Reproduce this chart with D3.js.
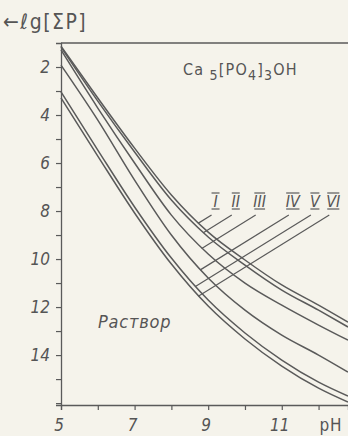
<!DOCTYPE html>
<html>
<head>
<meta charset="utf-8">
<script src="https://cdn.jsdelivr.net/npm/d3@7"></script>
<style>
  body { margin: 0; background: #f5f3eb; }
  svg { display: block; }
  text { font-family: "DejaVu Sans Condensed", "DejaVu Sans", sans-serif; fill: #555; }
</style>
</head>
<body>
<script>
// curve values, -lg[SP] against pH
var ph = [5, 6, 7, 8, 9, 10, 11, 12, 12.8];
var curveI   = [1.13, 3.29, 5.38, 7.33, 8.88, 10.04, 11.08, 11.92, 12.63];
var curveII  = [1.17, 3.42, 5.54, 7.54, 9.08, 10.25, 11.29, 12.13, 12.83];
var curveIII = [1.29, 3.71, 6.00, 8.17, 9.79, 11.00, 11.92, 12.75, 13.38];
var curveIV  = [1.92, 4.21, 6.71, 9.00, 10.79, 12.13, 13.17, 14.00, 14.71];
var curveV   = [3.04, 5.46, 7.83, 9.96, 11.71, 13.08, 14.21, 15.13, 15.71];
var curveVI  = [3.29, 5.71, 8.08, 10.21, 11.96, 13.33, 14.46, 15.38, 15.96];
var curveNames = ["I", "II", "III", "IV", "V", "VI"];
var labelPh = [9.2, 9.75, 10.4, 11.3, 11.9, 12.4];

var xTicks = [5, 6, 7, 8, 9, 10, 11, 12];
var xTickLabels = [5, 7, 9, 11];
var yTicks = [2, 3, 4, 5, 6, 7, 8, 9, 10, 11, 12, 13, 14, 15, 16];
var yTickLabels = [2, 4, 6, 8, 10, 12, 14];

var width = 348, height = 436;
var margin = {top: 43, right: 0, bottom: 31, left: 61};
var ink = "#5a5a5a";

var svg = d3.select("body")
            .append("svg")
            .attr("width", width)
            .attr("height", height);

var x = d3.scaleLinear().domain([5, 12.8]).range([margin.left, width - margin.right]);
var y = d3.scaleLinear().domain([1, 16.08]).range([margin.top, height - margin.bottom]);

// frame: top line, left axis, bottom axis
svg.append("line")
    .attr("x1", x(5)).attr("x2", width)
    .attr("y1", y(1)).attr("y2", y(1))
    .attr("stroke", ink).attr("stroke-width", 1.3);

var yAxis = svg.append("g")
    .attr("transform", "translate(" + x(5) + ",0)")
    .call(d3.axisLeft(y).tickValues(yTicks).tickSize(5).tickFormat(""));

var xAxis = svg.append("g")
    .attr("transform", "translate(0," + y(16.08) + ")")
    .call(d3.axisBottom(x).tickValues(xTicks).tickSize(5).tickFormat(""));

[xAxis, yAxis].forEach(function(g) {
  g.select(".domain").attr("stroke", ink).attr("stroke-width", 1.3);
  g.selectAll(".tick line").attr("stroke", ink).attr("stroke-width", 1.2);
});

svg.selectAll(".ylab")
    .data(yTickLabels)
    .enter().append("text")
    .attr("class", "ylab")
    .attr("x", x(5) - 11)
    .attr("y", function(d) { return y(d) + 6; })
    .attr("text-anchor", "end")
    .attr("font-size", "17px")
    .attr("font-style", "italic")
    .text(function(d) { return d; });

svg.selectAll(".xlab")
    .data(xTickLabels)
    .enter().append("text")
    .attr("class", "xlab")
    .attr("x", function(d) { return x(d) - 2; })
    .attr("y", 431)
    .attr("text-anchor", "middle")
    .attr("font-size", "17px")
    .attr("font-style", "italic")
    .text(function(d) { return d; });

svg.append("text")
    .attr("x", 331).attr("y", 431)
    .attr("text-anchor", "middle")
    .attr("font-size", "17px")
    .attr("letter-spacing", "1px")
    .text("pH");

svg.append("text")
    .attr("x", 3).attr("y", 29)
    .attr("font-size", "21px")
    .attr("letter-spacing", "1.5px")
    .text("\u2190\u2113g[\u03A3P]");

// formula
var formula = svg.append("text")
    .attr("x", 183).attr("y", 75)
    .attr("font-size", "16px")
    .attr("letter-spacing", "1.2px");
formula.append("tspan").text("Ca");
formula.append("tspan").attr("dy", 5).attr("font-size", "14px").text(" 5");
formula.append("tspan").attr("dy", -5).text("[PO");
formula.append("tspan").attr("dy", 5).attr("font-size", "14px").text("4");
formula.append("tspan").attr("dy", -5).text("]");
formula.append("tspan").attr("dy", 5).attr("font-size", "14px").text("3");
formula.append("tspan").attr("dy", -5).text("OH");

svg.append("text")
    .attr("x", 98).attr("y", 328)
    .attr("font-size", "18px")
    .attr("font-style", "italic")
    .attr("letter-spacing", "0.8px")
    .text("\u0420\u0430\u0441\u0442\u0432\u043e\u0440");

// curves
var curves = [curveI, curveII, curveIII, curveIV, curveV, curveVI];
var line = d3.line()
    .x(function(d, i) { return x(ph[i]); })
    .y(function(d) { return y(d); })
    .curve(d3.curveMonotoneX);

svg.selectAll(".curve")
    .data(curves)
    .enter().append("path")
    .attr("class", "curve")
    .attr("d", line)
    .attr("fill", "none")
    .attr("stroke", ink)
    .attr("stroke-width", 1.5);

// labels with leader lines down to their curve
var paths = svg.selectAll(".curve").nodes();
curveNames.forEach(function(name, k) {
  var lx = x(labelPh[k]);
  var t = svg.append("text")
      .attr("x", lx).attr("y", 207)
      .attr("text-anchor", "middle")
      .attr("font-size", "16px")
      .attr("font-style", "italic")
      .text(name);
  var bb = t.node().getBBox();
  var half = Math.max(bb.width / 2 - 1, 4);
  [bb.y + 1, bb.y + bb.height - 2].forEach(function(yy) {
    svg.append("line")
        .attr("x1", lx - half).attr("x2", lx + half)
        .attr("y1", yy).attr("y2", yy)
        .attr("stroke", ink).attr("stroke-width", 1.2);
  });
  // walk down-left along the leader until it meets the curve
  var sx = lx - 4, sy = 215, slope = 0.62;
  var p = paths[k], len = p.getTotalLength();
  var ex = sx, ey = sy;
  for (var xx = sx; xx > x(5); xx -= 0.5) {
    var yy = sy + slope * (sx - xx);
    var lo = 0, hi = len;
    for (var it = 0; it < 30; it++) {
      var mid = (lo + hi) / 2;
      if (p.getPointAtLength(mid).x < xx) lo = mid; else hi = mid;
    }
    var cy = p.getPointAtLength(lo).y;
    if (cy <= yy) { ex = xx; ey = yy; break; }
  }
  svg.append("line")
      .attr("x1", sx).attr("y1", sy)
      .attr("x2", ex).attr("y2", ey)
      .attr("stroke", ink).attr("stroke-width", 1.2);
});
</script>
</body>
</html>
